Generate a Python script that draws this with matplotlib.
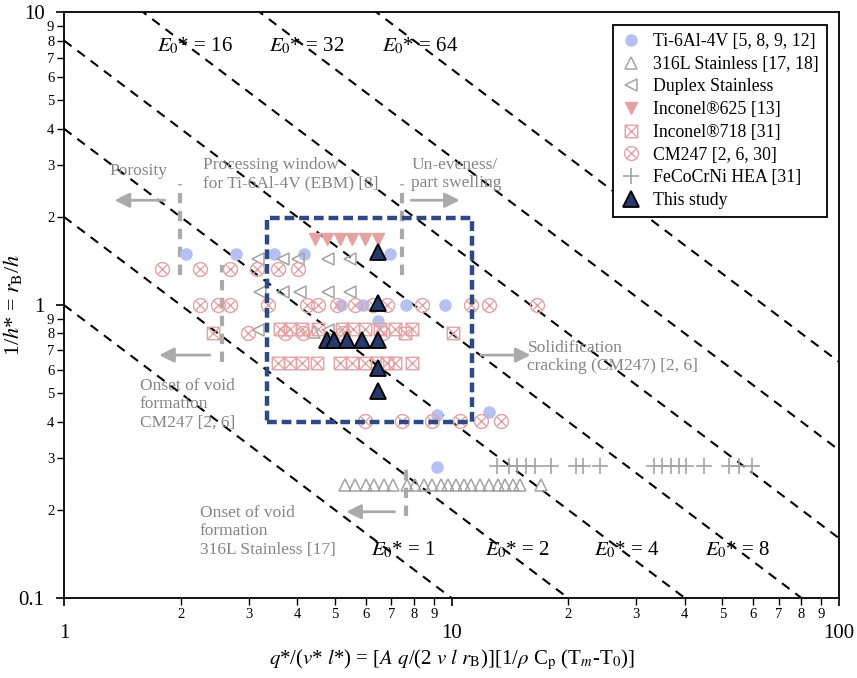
import numpy as np
import matplotlib
matplotlib.use('Agg')
import matplotlib.pyplot as plt
from matplotlib.path import Path
from matplotlib.lines import Line2D

plt.rcParams['font.family'] = ['Liberation Serif', 'DejaVu Serif']
plt.rcParams['mathtext.fontset'] = 'stix'

# ---- data ----
ti_x = [2.07, 2.78, 3.48, 4.15, 6.92, 5.2, 5.9, 7.65, 9.6, 6.45, 9.15, 12.5, 9.15]
ti_y = [1.49, 1.49, 1.49, 1.49, 1.5, 1.0, 1.0, 1.0, 1.0, 0.88, 0.42, 0.43, 0.28]

ss316_x = [5.30, 5.62, 6.00, 6.30, 6.68, 7.05, 7.66, 8.03, 8.47, 8.93, 9.37, 9.82,
           10.24, 10.74, 11.26, 11.81, 12.53, 13.22, 13.78, 14.45, 15.06, 17.06, 4.43]
ss316_y = [0.243] * 22 + [0.81]

duplex_x = [3.16, 3.67, 4.01, 4.79, 5.46, 3.20, 3.67, 4.06, 4.79, 5.46, 3.16, 4.79]
duplex_y = [1.435, 1.435, 1.435, 1.435, 1.435, 1.107, 1.107, 1.107, 1.107, 1.107, 0.822, 0.822]

in625_x = [4.44, 4.76, 5.14, 5.52, 5.97, 6.45]
in625_y = [1.68] * 6

in718_x = [3.60, 3.82, 4.11, 4.51, 5.21, 5.56, 5.97, 6.52, 7.13, 7.93,
           2.42, 7.57, 10.06,
           3.56, 3.82, 4.11, 4.49, 5.14, 5.52, 5.97, 6.41, 6.80, 7.13, 7.93]
in718_y = [0.828] * 10 + [0.803] * 3 + [0.634] * 11

cm247_x = [1.79, 2.24, 2.68, 3.14, 3.56, 4.01,
           2.24, 2.49, 2.68, 3.36, 4.23, 4.51, 5.05, 5.62, 6.26, 6.80, 8.37, 11.26, 12.53, 16.66,
           2.98, 3.71, 4.13, 5.24, 6.64,
           5.97, 7.47, 8.93, 10.49, 11.95, 13.45]
cm247_y = [1.327] * 6 + [1.0] * 14 + [0.803] * 5 + [0.402] * 6

hea_x = [13.1, 14.1, 14.8, 15.6, 16.4, 18.1, 21.0, 21.8, 24.1,
         33.3, 35.0, 36.9, 38.7, 40.3, 44.9, 52.0, 55.2, 59.7]
hea_y = [0.282] * 18

study_x = [6.45, 6.45, 4.76, 4.96, 5.36, 5.86, 6.45, 6.45, 6.45]
study_y = [1.517, 1.016, 0.76, 0.76, 0.76, 0.76, 0.76, 0.61, 0.509]

e0_levels = [1, 2, 4, 8, 16, 32, 64]

# processing window box
box_x = [3.35, 11.3]
box_y = [0.40, 1.98]

# custom markers: circle with x, square with x
d = 0.62
cross = Path([(-d, -d), (d, d), (-d, d), (d, -d)],
             [Path.MOVETO, Path.LINETO, Path.MOVETO, Path.LINETO])
circ_x = Path.make_compound_path(Path.unit_circle(), cross)
sq_x = Path([(-1, -1), (1, -1), (1, 1), (-1, 1), (-1, -1), (-1, -1), (1, 1), (-1, 1), (1, -1)],
            [Path.MOVETO, Path.LINETO, Path.LINETO, Path.LINETO, Path.LINETO,
             Path.MOVETO, Path.LINETO, Path.MOVETO, Path.LINETO])

blue_lt = '#b5c0f3'
salmon = '#e4a2a2'
gray = '#a3a3a3'
navy = '#27396b'
txt_gray = '#858585'
arrow_gray = '#aaaaaa'

fig = plt.figure(figsize=(8.57, 6.78), dpi=100)
ax = fig.add_axes([0.0747, 0.118, 0.9043, 0.864])
ax.set_xscale('log')
ax.set_yscale('log')
ax.set_xlim(1, 100)
ax.set_ylim(0.1, 10)

# constant E0* lines
xx = np.array([1.0, 100.0])
for c in e0_levels:
    ax.plot(xx, c / xx, color='black', lw=1.5, ls=(0, (4.5, 3.5)), zorder=2)

# data
kw = dict(ls='none', zorder=3)
ax.plot(ti_x, ti_y, marker='o', ms=8, color=blue_lt, mec=blue_lt, **kw)
ax.plot(ss316_x, ss316_y, marker='^', ms=9, mfc='none', mec=gray, mew=1.1, **kw)
ax.plot(duplex_x, duplex_y, marker='<', ms=9, mfc='none', mec=gray, mew=1.1, **kw)
ax.plot(in625_x, in625_y, marker='v', ms=9, color=salmon, **kw)
ax.plot(in718_x, in718_y, marker=sq_x, ms=9, mfc='none', mec=salmon, mew=1.0, **kw)
ax.plot(cm247_x, cm247_y, marker=circ_x, ms=10, mfc='none', mec=salmon, mew=1.0, **kw)
ax.plot(hea_x, hea_y, marker='+', ms=11, mec=gray, mew=1.2, **kw)
ax.plot(study_x, study_y, marker='^', ms=11, mfc=navy, mec='black', mew=1.3, ls='none', zorder=6)

# processing window rectangle
ax.plot([box_x[0], box_x[1], box_x[1], box_x[0], box_x[0]],
        [box_y[0], box_y[0], box_y[1], box_y[1], box_y[0]],
        color='#2e4a86', lw=3.2, ls=(0, (2.2, 1.1)), zorder=5)

# gray boundaries
dash_g = dict(color=arrow_gray, lw=3, ls=(0, (2.5, 1.8)), zorder=2)
ax.plot([1.99, 1.99], [1.27, 2.6], **dash_g)
ax.plot([7.47, 7.47], [1.27, 2.6], **dash_g)
ax.plot([2.55, 2.55], [0.64, 1.37], **dash_g)
ax.plot([7.65, 7.65], [0.19, 0.29], **dash_g)

arr = dict(arrowstyle='-|>', color=arrow_gray, lw=2, mutation_scale=22, shrinkA=0, shrinkB=0)
ax.annotate('', xy=(1.35, 2.28), xytext=(1.82, 2.28), arrowprops=arr)
ax.annotate('', xy=(10.5, 2.28), xytext=(7.87, 2.28), arrowprops=arr)
ax.annotate('', xy=(1.76, 0.675), xytext=(2.38, 0.675), arrowprops=arr)
ax.annotate('', xy=(16.0, 0.675), xytext=(11.9, 0.675), arrowprops=arr)
ax.annotate('', xy=(5.35, 0.197), xytext=(7.13, 0.197), arrowprops=arr)

tk = dict(color=txt_gray, fontsize=12.5, ha='left', va='center', linespacing=1.2, zorder=7)
ax.text(1.31, 2.86, 'Porosity', **tk)
ax.text(2.28, 2.80, 'Processing window\nfor Ti-6Al-4V (EBM) [8]', **tk)
ax.text(7.87, 2.80, 'Un-eveness/\npart swelling', **tk)
ax.text(15.7, 0.665, 'Solidification\ncracking (CM247) [2, 6]', **tk)
ax.text(1.57, 0.459, 'Onset of void\nformation\nCM247 [2, 6]', **tk)
ax.text(2.24, 0.169, 'Onset of void\nformation\n316L Stainless [17]', **tk)

# E0* labels
e0_top = [(2.18, '16'), (4.23, '32'), (8.3, '64')]
e0_bot = [(7.5, '1'), (14.8, '2'), (28.4, '4'), (54.6, '8')]
for x, s in e0_top:
    ax.text(x, 7.7, r'$E_{\mathit{0}}$* = ' + s, fontsize=15, ha='center', va='center', zorder=7)
for x, s in e0_bot:
    ax.text(x, 0.146, r'$E_{\mathit{0}}$* = ' + s, fontsize=15, ha='center', va='center', zorder=7)

# legend
handles = [
    Line2D([], [], ls='none', marker='o', ms=8, color=blue_lt),
    Line2D([], [], ls='none', marker='^', ms=9, mfc='none', mec=gray, mew=1.1),
    Line2D([], [], ls='none', marker='<', ms=9, mfc='none', mec=gray, mew=1.1),
    Line2D([], [], ls='none', marker='v', ms=9, color=salmon),
    Line2D([], [], ls='none', marker=sq_x, ms=9, mfc='none', mec=salmon, mew=1.0),
    Line2D([], [], ls='none', marker=circ_x, ms=10, mfc='none', mec=salmon, mew=1.0),
    Line2D([], [], ls='none', marker='+', ms=11, mec=gray, mew=1.2),
    Line2D([], [], ls='none', marker='^', ms=11, mfc=navy, mec='black', mew=1.3),
]
labels = ['Ti-6Al-4V [5, 8, 9, 12]', '316L Stainless [17, 18]', 'Duplex Stainless',
          'Inconel®625 [13]', 'Inconel®718 [31]', 'CM247 [2, 6, 30]',
          'FeCoCrNi HEA [31]', 'This study']
leg = ax.legend(handles, labels, loc='upper right', bbox_to_anchor=(0.984, 0.978),
                borderaxespad=0, fontsize=12.8, fancybox=False, framealpha=1,
                edgecolor='black', labelspacing=0.32, handletextpad=0.7,
                handlelength=1.1, borderpad=0.45)
leg.get_frame().set_linewidth(1.3)
leg.set_zorder(10)

# ticks
minor = [2, 3, 4, 5, 6, 7, 8, 9, 20, 30, 40, 50, 60, 70, 80, 90]
minor_lab = ['2', '3', '4', '5', '6', '7', '8', '9'] * 2
ax.set_xticks([1, 10, 100], ['1', '10', '100'])
ax.set_xticks(minor, minor_lab, minor=True)
yminor = [0.2, 0.3, 0.4, 0.5, 0.6, 0.7, 0.8, 0.9, 2, 3, 4, 5, 6, 7, 8, 9]
ax.set_yticks([0.1, 1, 10], ['0.1', '1', '10'])
ax.set_yticks(yminor, minor_lab, minor=True)
ax.tick_params(axis='both', which='major', labelsize=15, length=6, width=1.2, direction='out')
ax.tick_params(axis='both', which='minor', labelsize=10.5, length=5, width=1.0, direction='out', pad=2)
ax.tick_params(axis='x', which='major', pad=13)
ax.tick_params(axis='y', which='major', pad=8)
for sp in ax.spines.values():
    sp.set_linewidth(1.3)

ax.set_xlabel(r'$q$*/($v$* $l$*) = [$A\ q$/(2 $v\ l\ r_\mathrm{B}$)][1/$\rho$ C$_\mathrm{p}$ (T$_m$-T$_0$)]',
              fontsize=15, labelpad=3)
ax.set_ylabel(r'1/$h$* = $r_\mathrm{B}$/$h$', fontsize=16)
ax.yaxis.set_label_coords(-0.052, 0.5)

fig.savefig('out.png', dpi=100)
